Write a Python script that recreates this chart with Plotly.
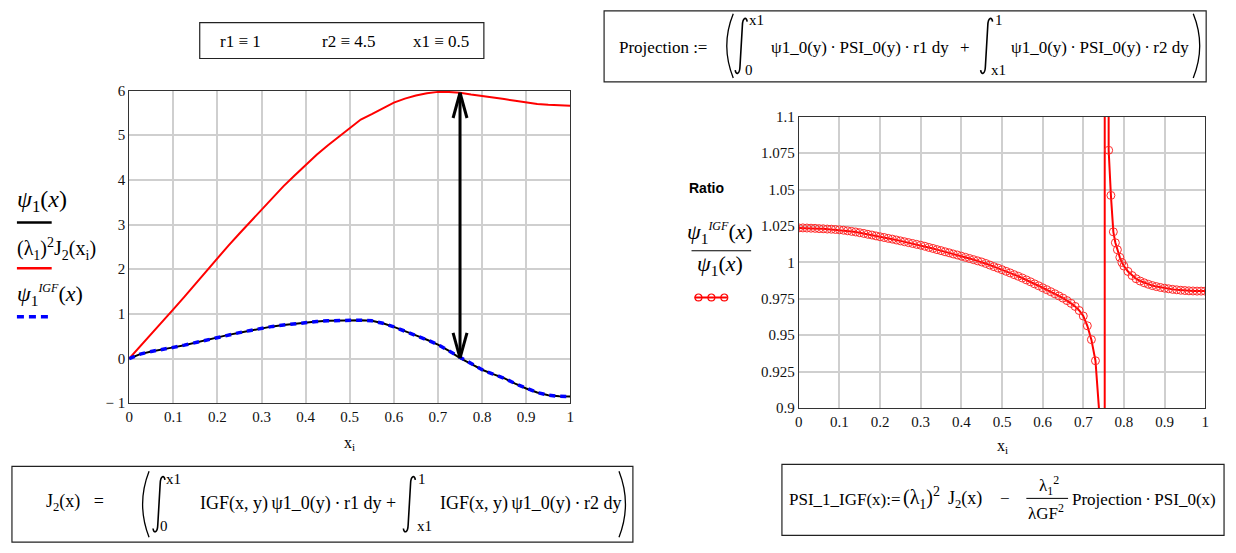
import plotly.graph_objects as go

W, H = 1236, 553
SERIF = "Liberation Serif"
SANS = "Liberation Sans"

# ---------------- data (left chart) ----------------
x_left = [0.0, 0.025, 0.05, 0.075, 0.1, 0.125, 0.15, 0.175, 0.2, 0.225, 0.25, 0.275,
          0.3, 0.325, 0.35, 0.375, 0.4, 0.425, 0.45, 0.475, 0.5, 0.525, 0.55, 0.575,
          0.6, 0.625, 0.65, 0.675, 0.7, 0.725, 0.75, 0.775, 0.8, 0.825, 0.85, 0.875,
          0.9, 0.925, 0.95, 0.975, 1.0]
lambda_sq_J2 = [0.0, 0.27, 0.55, 0.83, 1.10, 1.38, 1.67, 1.96, 2.25, 2.53, 2.80, 3.07,
                3.34, 3.60, 3.86, 4.10, 4.34, 4.56, 4.77, 4.97, 5.16, 5.35, 5.47, 5.60,
                5.73, 5.82, 5.89, 5.94, 5.97, 5.97, 5.95, 5.91, 5.88, 5.85, 5.81, 5.77,
                5.73, 5.70, 5.68, 5.665, 5.66]
psi1 = [0.0, 0.10, 0.16, 0.20, 0.25, 0.30, 0.36, 0.42, 0.48, 0.53, 0.58, 0.63,
        0.68, 0.72, 0.75, 0.78, 0.81, 0.83, 0.845, 0.855, 0.86, 0.86, 0.845, 0.79,
        0.71, 0.62, 0.52, 0.42, 0.31, 0.17, 0.01, -0.12, -0.25, -0.35, -0.44, -0.56,
        -0.67, -0.76, -0.82, -0.845, -0.85]
psi1_IGF = [0.0, 0.10, 0.16, 0.20, 0.25, 0.30, 0.36, 0.42, 0.48, 0.53, 0.58, 0.63,
            0.68, 0.72, 0.75, 0.78, 0.81, 0.83, 0.845, 0.855, 0.86, 0.86, 0.845, 0.79,
            0.71, 0.62, 0.52, 0.42, 0.31, 0.17, 0.01, -0.12, -0.25, -0.35, -0.44, -0.56,
            -0.67, -0.76, -0.82, -0.845, -0.85]
arrow_x = 0.75

# ---------------- data (right chart: ratio) ----------------
x_ratio = [0.00, 0.01, 0.02, 0.03, 0.04, 0.05, 0.06, 0.07, 0.08, 0.09,
           0.10, 0.11, 0.12, 0.13, 0.14, 0.15, 0.16, 0.17, 0.18, 0.19,
           0.20, 0.21, 0.22, 0.23, 0.24, 0.25, 0.26, 0.27, 0.28, 0.29,
           0.30, 0.31, 0.32, 0.33, 0.34, 0.35, 0.36, 0.37, 0.38, 0.39,
           0.40, 0.41, 0.42, 0.43, 0.44, 0.45, 0.46, 0.47, 0.48, 0.49,
           0.50, 0.51, 0.52, 0.53, 0.54, 0.55, 0.56, 0.57, 0.58, 0.59,
           0.60, 0.61, 0.62, 0.63, 0.64, 0.65, 0.66, 0.67, 0.68, 0.69,
           0.70, 0.71, 0.72, 0.73, 0.7425, 0.7522, 0.7535, 0.7625, 0.768, 0.774,
           0.779, 0.784, 0.79, 0.795, 0.80, 0.81, 0.82, 0.83, 0.84, 0.85,
           0.86, 0.87, 0.88, 0.89, 0.90, 0.91, 0.92, 0.93, 0.94, 0.95,
           0.96, 0.97, 0.98, 0.99, 1.00]
ratio = [1.0237, 1.0237, 1.0236, 1.0235, 1.0234, 1.0232, 1.0231, 1.0229, 1.0228, 1.0226,
         1.0224, 1.0221, 1.0217, 1.0213, 1.0209, 1.0204, 1.0199, 1.0193, 1.0188, 1.0182,
         1.0176, 1.0171, 1.0165, 1.0160, 1.0154, 1.0148, 1.0142, 1.0136, 1.0130, 1.0124,
         1.0118, 1.0111, 1.0103, 1.0096, 1.0088, 1.0081, 1.0073, 1.0066, 1.0058, 1.0051,
         1.0043, 1.0035, 1.0027, 1.0019, 1.0011, 1.0003, 0.9993, 0.9982, 0.9971, 0.9961,
         0.9950, 0.9939, 0.9928, 0.9916, 0.9905, 0.9893, 0.9880, 0.9867, 0.9853, 0.9840,
         0.9826, 0.9813, 0.9799, 0.9785, 0.9770, 0.9755, 0.9738, 0.9719, 0.9698, 0.9670,
         0.9632, 0.9565, 0.9470, 0.9325, 0.885, -5.0, 8.0, 1.077, 1.046, 1.021,
         1.0135, 1.0087, 1.0035, 1.0000, 0.9975, 0.9938, 0.9910, 0.9888, 0.9872, 0.9860,
         0.9850, 0.9841, 0.9834, 0.9828, 0.9823, 0.9819, 0.9815, 0.9812, 0.9809, 0.9807,
         0.9805, 0.9804, 0.9803, 0.9803, 0.9803]

left_yticks = [-1, 0, 1, 2, 3, 4, 5, 6]
left_yticktext = ["\u2212 1", "0", "1", "2", "3", "4", "5", "6"]
x_ticks = [0, 0.1, 0.2, 0.3, 0.4, 0.5, 0.6, 0.7, 0.8, 0.9, 1]
x_ticktext = ["0", "0.1", "0.2", "0.3", "0.4", "0.5", "0.6", "0.7", "0.8", "0.9", "1"]
right_yticks = [0.9, 0.925, 0.95, 0.975, 1.0, 1.025, 1.05, 1.075, 1.1]
right_yticktext = ["0.9", "0.925", "0.95", "0.975", "1", "1.025", "1.05", "1.075", "1.1"]

# ---------------- figure ----------------
fig = go.Figure()

fig.add_trace(go.Scatter(x=x_left, y=lambda_sq_J2, mode="lines",
                         line=dict(color="#ff0000", width=2), xaxis="x", yaxis="y"))
fig.add_trace(go.Scatter(x=x_left, y=psi1, mode="lines",
                         line=dict(color="#000000", width=2), xaxis="x", yaxis="y"))
fig.add_trace(go.Scatter(x=x_left, y=psi1_IGF, mode="lines",
                         line=dict(color="#0000ff", width=3.5, dash="6px,5px"),
                         xaxis="x", yaxis="y"))
fig.add_trace(go.Scatter(x=x_ratio, y=ratio, mode="lines+markers",
                         line=dict(color="#ff0000", width=2),
                         marker=dict(symbol="circle-open", size=8,
                                     color="#ff2a2a", line=dict(width=1)),
                         xaxis="x2", yaxis="y2"))


def px(x):
    return x / W


def py(y):
    return 1 - y / H


axis_common = dict(showgrid=True, gridcolor="#cfcfcf", gridwidth=1.5,
                   zeroline=False, showline=True, linecolor="#333333", linewidth=1,
                   mirror=True, ticks="", tickfont=dict(family=SERIF, size=15, color="#111111"))

fig.update_layout(
    width=W, height=H, margin=dict(l=0, r=0, t=0, b=0),
    paper_bgcolor="white", plot_bgcolor="white", showlegend=False,
    xaxis=dict(domain=[px(126), px(570)], range=[0, 1], tickvals=x_ticks,
               ticktext=x_ticktext, anchor="y", **axis_common),
    yaxis=dict(domain=[py(407), py(85)], range=[-1, 6], tickvals=left_yticks,
               ticktext=left_yticktext, anchor="x", **axis_common),
    xaxis2=dict(domain=[px(800), px(1209)], range=[0, 1], tickvals=x_ticks,
                ticktext=x_ticktext, anchor="y2", **axis_common),
    yaxis2=dict(domain=[py(412), py(112)], range=[0.9, 1.1], tickvals=right_yticks,
                ticktext=right_yticktext, anchor="x2", **axis_common),
)

shapes = []
anns = []

# ---- double-headed arrow on left chart (between the curves at arrow_x) ----
i_arrow = x_left.index(arrow_x)
y_top = lambda_sq_J2[i_arrow]
y_bot = psi1[i_arrow]
head_dy = 26 / 46.0      # data units per pixel on left y axis
head_dx = 7 / 444.0
arrow_line = dict(color="black", width=3)
shapes.append(dict(type="line", xref="x", yref="y", x0=arrow_x, x1=arrow_x,
                   y0=y_bot, y1=y_top, line=arrow_line))
for sgn_y, yy in ((-1, y_top), (1, y_bot)):
    for sgn_x in (-1, 1):
        shapes.append(dict(type="line", xref="x", yref="y", x0=arrow_x, y0=yy,
                           x1=arrow_x + sgn_x * head_dx, y1=yy + sgn_y * head_dy,
                           line=arrow_line))


def txt(x, y, s, size=16, xanchor="center", family=SERIF, color="black"):
    anns.append(dict(x=px(x), y=py(y), xref="paper", yref="paper", text=s,
                     showarrow=False, xanchor=xanchor, yanchor="middle",
                     font=dict(size=size, family=family, color=color)))


def box(x0, y0, x1, y1):
    shapes.append(dict(type="rect", xref="paper", yref="paper", x0=px(x0), x1=px(x1),
                       y0=py(y1), y1=py(y0), line=dict(color="#222222", width=1.2)))


def hline(x0, x1, y, color, width, dash=None):
    d = dict(type="line", xref="paper", yref="paper", x0=px(x0), x1=px(x1),
             y0=py(y), y1=py(y), line=dict(color=color, width=width))
    if dash:
        d["line"]["dash"] = dash
    shapes.append(d)


def P(x, y):
    return f"{px(x):.5f},{py(y):.5f}"


def path(d, width=1.2):
    shapes.append(dict(type="path", xref="paper", yref="paper", path=d,
                       line=dict(color="black", width=width)))


def paren(x, top, bot, left=True):
    mid = (top + bot) / 2
    if left:
        d = f"M{P(x + 6, top)} Q{P(x - 7, mid)} {P(x + 6, bot)}"
    else:
        d = f"M{P(x - 6, top)} Q{P(x + 7, mid)} {P(x - 6, bot)}"
    path(d, 1.3)


def integral(cx, top, bot):
    d = (f"M{P(cx + 6, top + 4)} C{P(cx + 5.5, top - 1)} {P(cx + 1.5, top - 1)} {P(cx + 1.2, top + 8)} "
         f"L{P(cx - 1.2, bot - 8)} C{P(cx - 1.5, bot + 1)} {P(cx - 5.5, bot + 1)} {P(cx - 6, bot - 4)}")
    path(d, 1.6)


# axis titles
txt(348, 448, "x<sub>i</sub>", size=16)
txt(1005, 452, "x<sub>i</sub>", size=16)

SMALL = "<span style='font-size:12px'>"
NB = "\u00a0"

# left legend
txt(11, 199, "<i>ψ</i><sub>1</sub>(<i>x</i>)", size=24, xanchor="left")
hline(13, 48, 221, "black", 2.5)
txt(11, 248, "(λ<sub>1</sub>)<sup>2</sup>J<sub>2</sub>(x<sub>i</sub>)", size=20, xanchor="left")
hline(13, 48, 268, "#ff0000", 2.5)
txt(11, 296, "<i>ψ</i><sub>1</sub><sup>" + SMALL + "<i>IGF</i></span></sup>(<i>x</i>)",
    size=22, xanchor="left")
hline(13, 48, 318, "#0000ff", 3.5, dash="7px,5px")

# right legend
txt(707, 185, "<b>Ratio</b>", size=14, family=SANS)
txt(721, 232, "<i>ψ</i><sub>1</sub><sup>" + SMALL + "<i>IGF</i></span></sup>(<i>x</i>)", size=22)
hline(692, 752, 250, "black", 1.2)
txt(721, 265, "<i>ψ</i><sub>1</sub>(<i>x</i>)", size=22)
hline(695, 728, 298, "#ff0000", 2)
for cx in (699, 712, 725):
    shapes.append(dict(type="circle", xref="paper", yref="paper",
                       x0=px(cx - 3.5), x1=px(cx + 3.5), y0=py(298 + 3.5), y1=py(298 - 3.5),
                       line=dict(color="#ff0000", width=1.2)))

# parameter box
box(197, 15, 483, 52)
txt(238, 34, "r1 ≡ 1", size=17)
txt(347, 34, "r2 ≡ 4.5", size=17)
txt(440, 34, "x1 ≡ 0.5", size=17)

DOT = "\u2009·\u2009"

# Projection box
box(604, 3, 1210, 76)
txt(617, 41, "Projection :=", size=17, xanchor="left")
paren(728, 6, 72, left=True)
integral(742, 10, 68)
txt(757, 12, "x1", size=15)
txt(750, 64, "0", size=15)
txt(770, 41, "ψ1_0(y)" + DOT + "PSI_0(y)" + DOT + "r1 dy", size=17, xanchor="left")
txt(967, 41, "+", size=17)
integral(989, 10, 68)
txt(1001, 12, "1", size=15)
txt(1001, 64, "x1", size=15)
txt(1012, 41, "ψ1_0(y)" + DOT + "PSI_0(y)" + DOT + "r2 dy", size=17, xanchor="left")
paren(1203, 6, 72, left=False)

# J2 box
box(8, 472, 633, 550)
txt(40, 509, "J<sub>2</sub>(x)" + NB * 3 + "=", size=18, xanchor="left")
paren(140, 477, 545, left=True)
integral(156, 482, 540)
txt(171, 485, "x1", size=15)
txt(161, 533, "0", size=15)
txt(195, 510, "IGF(x, y)\u2009ψ1_0(y)" + DOT + "r1 dy +", size=18, xanchor="left")
integral(408, 482, 540)
txt(421, 485, "1", size=15)
txt(423, 533, "x1", size=15)
txt(437, 510, "IGF(x, y)\u2009ψ1_0(y)" + DOT + "r2 dy", size=18, xanchor="left")
paren(625, 477, 545, left=False)

# PSI box
box(783, 470, 1228, 543)
txt(788, 506, "PSI_1_IGF(x):=", size=17, xanchor="left")
txt(903, 505, "(λ<sub>1</sub>)<sup>2</sup>", size=20, xanchor="left")
txt(948, 506, "J<sub>2</sub>(x)", size=18, xanchor="left")
txt(1008, 505, "−", size=17)
txt(1052, 492, "λ<sub>1</sub><sup>2</sup>", size=17)
hline(1029, 1071, 505, "black", 1)
txt(1049, 519, "λGF<sup>2</sup>", size=17)
txt(1073, 506, "Projection" + DOT + "PSI_0(x)", size=17, xanchor="left")

fig.update_layout(shapes=shapes, annotations=anns)
fig.write_html("out.html", config={"displayModeBar": False},
               post_script="document.body.style.margin='0px';")
